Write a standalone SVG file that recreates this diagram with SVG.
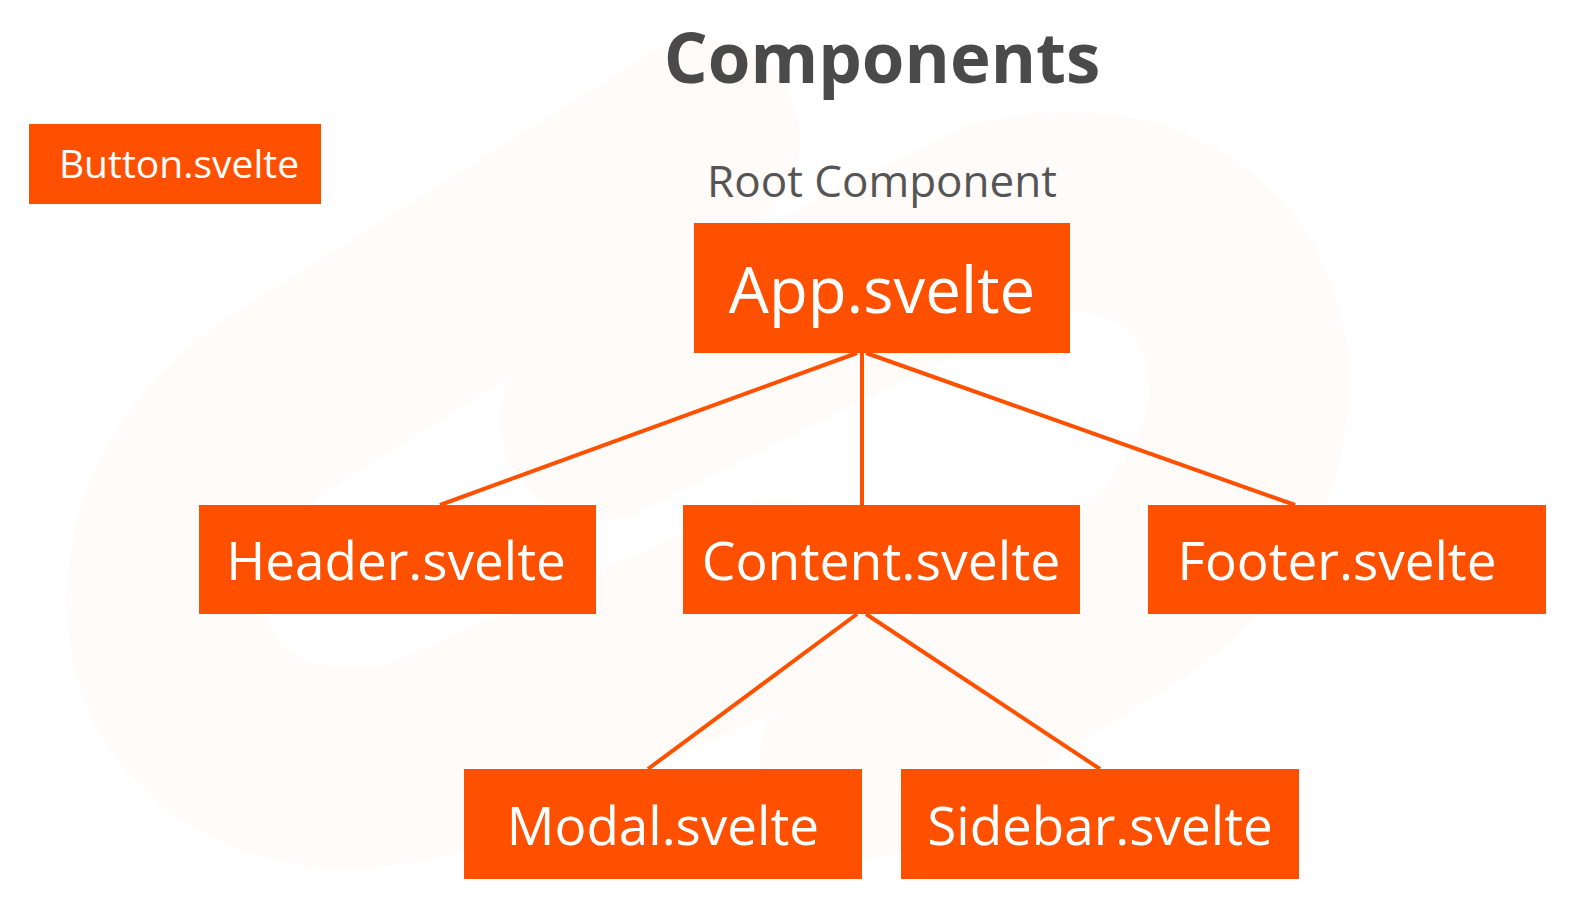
<svg xmlns="http://www.w3.org/2000/svg" width="1570" height="914" viewBox="0 0 1570 914">
<style>
.box{fill:#ff5000}
.lbl{fill:#ffffff;font-family:"Open Sans","Noto Sans",sans-serif;text-anchor:middle}
.edge{stroke:#ff5000;stroke-width:4;fill:none}
.wm{fill:none;stroke:#fefbf9;stroke-linecap:round}
</style>
<rect width="1570" height="914" fill="#ffffff"/>
<g id="watermark">
<path class="wm" stroke-width="200" d="M700,140 L300,390 C80,520 140,820 420,760 L780,600"/>
<path class="wm" stroke-width="200" d="M860,760 L1120,600 C1330,470 1280,160 1000,220 L600,420"/>
</g>
<text x="882" y="83" font-family="'Open Sans','Noto Sans',sans-serif" font-weight="700" font-size="69" fill="#4a4a4a" text-anchor="middle">Components</text>
<text x="882" y="197" font-family="'Open Sans','Noto Sans',sans-serif" font-size="44" fill="#555555" text-anchor="middle">Root Component</text>
<g id="connectors">
<line class="edge" x1="857" y1="353" x2="440" y2="505"/>
<line class="edge" x1="862" y1="353" x2="862" y2="505"/>
<line class="edge" x1="866" y1="353" x2="1295" y2="505"/>
<line class="edge" x1="857" y1="614" x2="648" y2="769"/>
<line class="edge" x1="866" y1="614" x2="1100" y2="769"/>
</g>
<g id="button">
<rect class="box" x="29" y="124" width="292" height="80"/>
<text class="lbl" x="179" y="178" font-size="39">Button.svelte</text>
</g>
<g id="app">
<rect class="box" x="694" y="223" width="376" height="130"/>
<text class="lbl" x="882" y="313" font-size="63.5">App.svelte</text>
</g>
<g id="header">
<rect class="box" x="199" y="505" width="397" height="109"/>
<text class="lbl" x="396" y="580" font-size="53">Header.svelte</text>
</g>
<g id="content">
<rect class="box" x="683" y="505" width="397" height="109"/>
<text class="lbl" x="881" y="580" font-size="53.5">Content.svelte</text>
</g>
<g id="footer">
<rect class="box" x="1148" y="505" width="398" height="109"/>
<text class="lbl" x="1337" y="580" font-size="53">Footer.svelte</text>
</g>
<g id="modal">
<rect class="box" x="464" y="769" width="398" height="110"/>
<text class="lbl" x="663" y="845" font-size="53">Modal.svelte</text>
</g>
<g id="sidebar">
<rect class="box" x="901" y="769" width="398" height="110"/>
<text class="lbl" x="1100" y="845" font-size="53">Sidebar.svelte</text>
</g>
</svg>
